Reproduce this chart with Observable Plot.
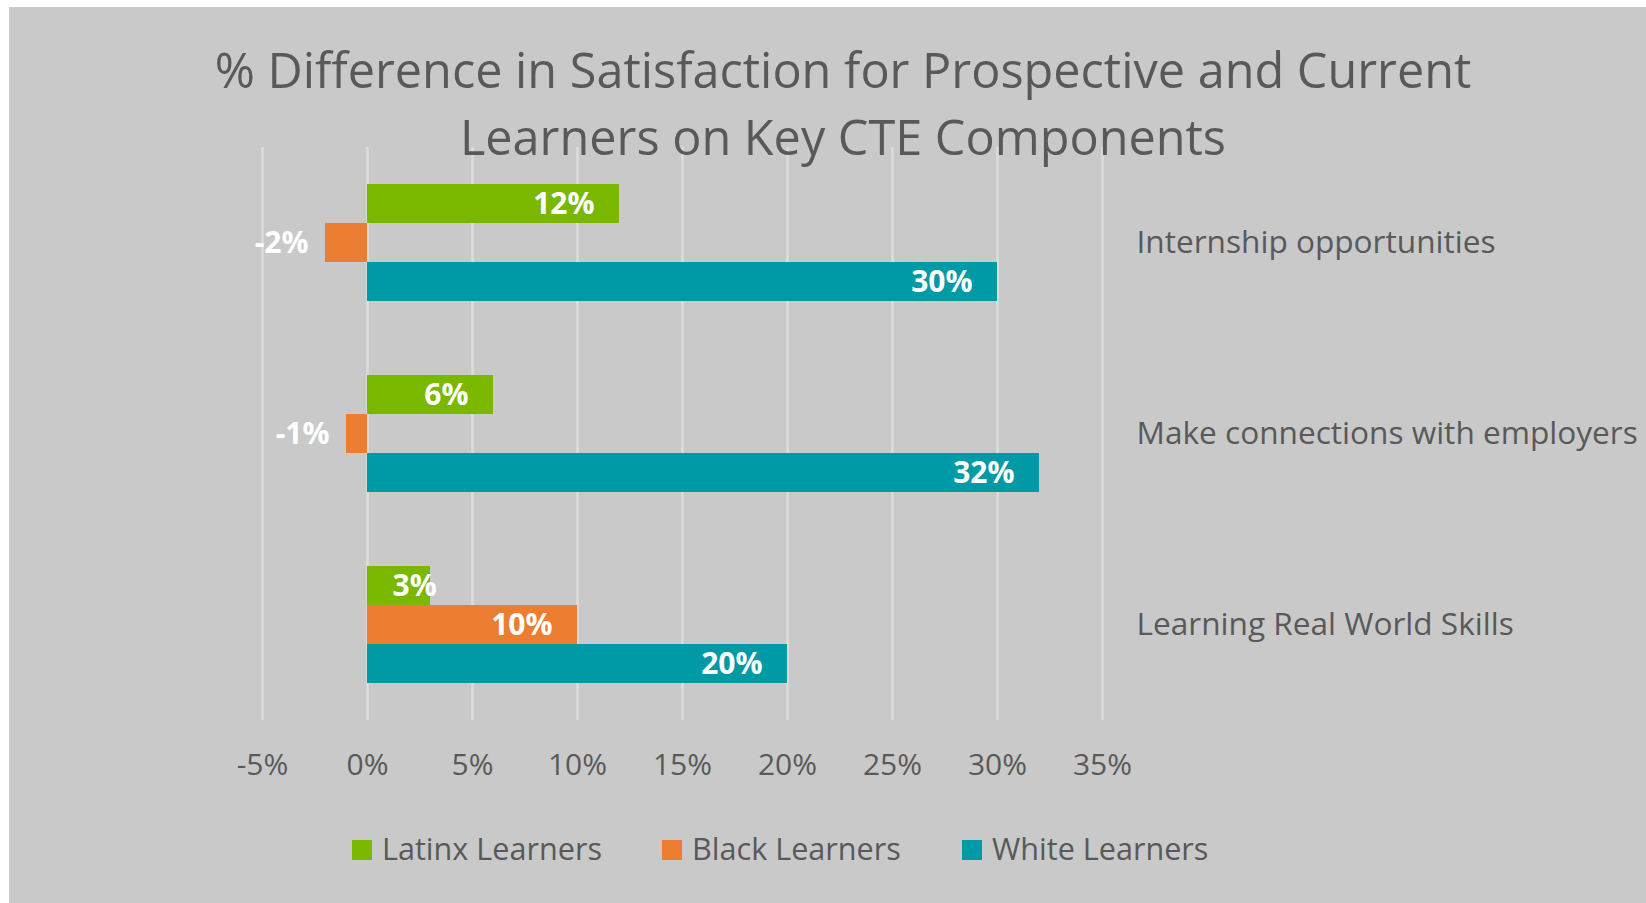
<!DOCTYPE html>
<html>
<head>
<meta charset="utf-8">
<script src="https://cdn.jsdelivr.net/npm/d3@7"></script>
<script src="https://cdn.jsdelivr.net/npm/@observablehq/plot@0.6"></script>
<style>
  html, body { margin: 0; padding: 0; background: #ffffff; overflow: hidden; }
  #wrap { position: relative; width: 1646px; height: 903px; font-family: "Open Sans", sans-serif; color: #595959; }
  #bg { position: absolute; left: 9px; top: 7px; right: 0; bottom: 0; background: #c9c9c9; }
  #chart { position: absolute; left: 0; top: 0; }
  #title { position: absolute; left: 43px; top: 36px; width: 1600px; text-align: center; font-size: 48.6px; line-height: 67px; color: #595959; }
  #legend { position: absolute; left: 0; top: 0; }
  .sw { position: absolute; width: 20px; height: 20px; top: 840px; }
  .lt { position: absolute; top: 828px; font-size: 30.6px; line-height: 40px; white-space: nowrap; color: #595959; }
  #chart [aria-label^="x-axis"] text { font-size: 30px; fill: #595959; }
  #chart [aria-label^="fy-axis"] text { font-size: 31.6px; fill: #595959; }
</style>
</head>
<body>
<div id="wrap">
  <div id="bg"></div>
  <div id="chart"></div>
  <div id="title">% Difference in Satisfaction for Prospective and Current<br>Learners on Key CTE Components</div>
  <div id="legend"></div>
</div>
<script>
// ---- data ----
const categories = ["Internship opportunities", "Make connections with employers", "Learning Real World Skills"];
const seriesNames = ["Latinx Learners", "Black Learners", "White Learners"];
const latinxValues = [12, 6, 3];
const blackValues = [-2, -1, 10];
const whiteValues = [30, 32, 20];
const xTicks = [-5, 0, 5, 10, 15, 20, 25, 30, 35];
const seriesColors = ["#7ab800", "#ed7d31", "#009aa6"];

// ---- table built from the arrays ----
const valuesBySeries = [latinxValues, blackValues, whiteValues];
const rows = [];
categories.forEach((c, i) => {
  seriesNames.forEach((s, j) => {
    rows.push({category: c, series: s, value: valuesBySeries[j][i]});
  });
});

const labelStyle = {x: "value", y: "series", fy: "category", text: d => d.value + "%", fill: "white", fontWeight: "bold", fontSize: 30};

const plot = Plot.plot({
  width: 1646,
  height: 903,
  marginTop: 147,
  marginBottom: 183,
  marginLeft: 262,
  marginRight: 544,
  style: {background: "transparent", fontFamily: "Open Sans, sans-serif", color: "#595959", overflow: "visible"},
  x: {domain: [-5, 35], ticks: xTicks, tickFormat: d => d + "%", tickSize: 0, tickPadding: 33, label: null, axis: "bottom"},
  y: {domain: seriesNames, paddingInner: 0, paddingOuter: 0.918, axis: null},
  fy: {domain: categories, padding: 0, axis: "right", tickSize: 0, tickPadding: 34, label: null},
  color: {domain: seriesNames, range: seriesColors},
  marks: [
    Plot.ruleX(xTicks, {stroke: "#dcdcdc", strokeWidth: 2.5}),
    Plot.barX(rows, {x: "value", y: "series", fy: "category", fill: "series"}),
    Plot.text(rows.filter(d => d.value >= 5), {...labelStyle, textAnchor: "end", dx: -25}),
    Plot.text(rows.filter(d => d.value > 0 && d.value < 5), {...labelStyle, x: () => 0, textAnchor: "start", dx: 25}),
    Plot.text(rows.filter(d => d.value < 0), {...labelStyle, textAnchor: "end", dx: -17})
  ]
});
document.getElementById("chart").appendChild(plot);

// ---- legend ----
const legendSwatchX = [352, 662, 962];
const legend = document.getElementById("legend");
seriesNames.forEach((s, i) => {
  const sw = document.createElement("div");
  sw.className = "sw";
  sw.style.left = legendSwatchX[i] + "px";
  sw.style.background = seriesColors[i];
  legend.appendChild(sw);
  const t = document.createElement("div");
  t.className = "lt";
  t.style.left = (legendSwatchX[i] + 30) + "px";
  t.textContent = s;
  legend.appendChild(t);
});
</script>
</body>
</html>
